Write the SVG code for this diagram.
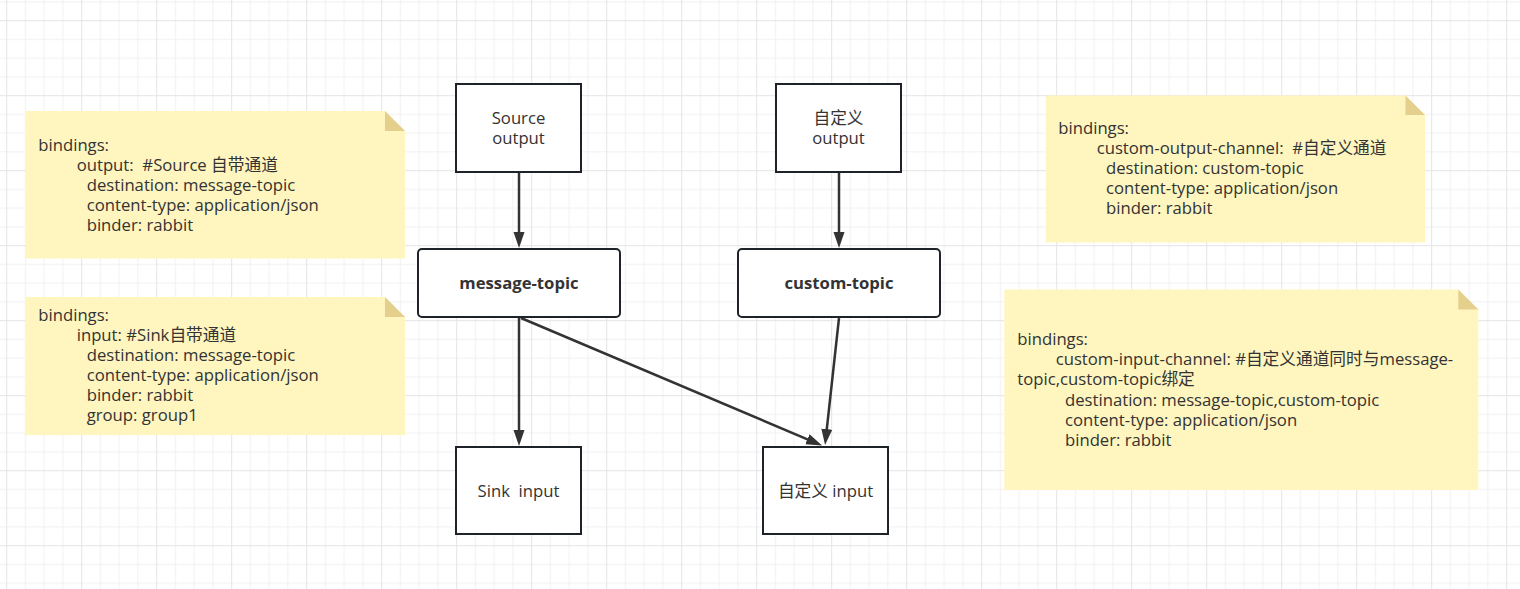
<svg xmlns="http://www.w3.org/2000/svg" width="1520" height="589" viewBox="0 0 1520 589">
<style>
.t{font-family:"Open Sans","Noto Sans CJK SC",sans-serif;font-size:16.7px;fill:#333;white-space:pre}
.c{text-anchor:middle}
.b{font-weight:bold}
.box{fill:#fff;stroke:#1e2329;stroke-width:2}
.note{fill:#fff5bf}
.fold{fill:#e4d08c}
.edge{stroke:#333;stroke-width:2.5;fill:none;marker-end:url(#arr)}
</style>
<defs>
<pattern id="grid" patternUnits="userSpaceOnUse" x="6.2" y="20.2" width="75" height="75">
<rect width="75" height="75" fill="#fff"/>
<g fill="#f1f1f1">
<rect x="18.75" y="0" width="1" height="75"/><rect x="37.5" y="0" width="1" height="75"/><rect x="56.25" y="0" width="1" height="75"/>
<rect x="0" y="18.75" width="75" height="1"/><rect x="0" y="37.5" width="75" height="1"/><rect x="0" y="56.25" width="75" height="1"/>
</g>
<g fill="#e4e4e4"><rect x="0" y="0" width="1" height="75"/><rect x="0" y="0" width="75" height="1"/></g>
</pattern>
<marker id="arr" markerUnits="userSpaceOnUse" markerWidth="17" markerHeight="12" refX="11" refY="5.5" orient="auto">
<path d="M0,0 L16,5.5 L0,11 z" fill="#333"/>
</marker>
</defs>
<rect width="1520" height="589" fill="url(#grid)"/>

<g id="note-source">
<polygon class="note" points="25.5,111 385,111 405,131 405,258.5 25.5,258.5"/>
<polygon class="fold" points="385,111 405,131 385,131"/>
<text class="t" x="38.3" y="150.5">bindings:</text>
<text class="t" x="76.7" y="170.5">output:  #Source 自带通道</text>
<text class="t" x="86.7" y="190.5">destination: message-topic</text>
<text class="t" x="86.7" y="210.5">content-type: application/json</text>
<text class="t" x="86.7" y="230.5">binder: rabbit</text>
</g>

<g id="note-sink">
<polygon class="note" points="25.5,297 385,297 405,317 405,435 25.5,435"/>
<polygon class="fold" points="385,297 405,317 385,317"/>
<text class="t" x="38.3" y="320.5">bindings:</text>
<text class="t" x="76.7" y="340.5">input: #Sink自带通道</text>
<text class="t" x="86.7" y="360.5">destination: message-topic</text>
<text class="t" x="86.7" y="380.5">content-type: application/json</text>
<text class="t" x="86.7" y="400.5">binder: rabbit</text>
<text class="t" x="86.7" y="420.5">group: group1</text>
</g>

<g id="note-custom-output">
<polygon class="note" points="1045.7,95.5 1405.5,95.5 1425,115 1425,242.5 1045.7,242.5"/>
<polygon class="fold" points="1405.5,95.5 1425,115 1405.5,115"/>
<text class="t" x="1058.3" y="134">bindings:</text>
<text class="t" x="1096.7" y="154">custom-output-channel:  #自定义通道</text>
<text class="t" x="1106" y="174">destination: custom-topic</text>
<text class="t" x="1106" y="194">content-type: application/json</text>
<text class="t" x="1106" y="214">binder: rabbit</text>
</g>

<g id="note-custom-input">
<polygon class="note" points="1004.3,289.5 1458.3,289.5 1478.3,309.5 1478.3,490 1004.3,490"/>
<polygon class="fold" points="1458.3,289.5 1478.3,309.5 1458.3,309.5"/>
<text class="t" x="1017.3" y="345">bindings:</text>
<text class="t" x="1055.7" y="365">custom-input-channel: #自定义通道同时与message-</text>
<text class="t" x="1017.3" y="385">topic,custom-topic绑定</text>
<text class="t" x="1065" y="405.5">destination: message-topic,custom-topic</text>
<text class="t" x="1065" y="425.5">content-type: application/json</text>
<text class="t" x="1065" y="445.5">binder: rabbit</text>
</g>

<g id="connectors">
<line class="edge" x1="519" y1="172" x2="519" y2="243"/>
<line class="edge" x1="839" y1="172" x2="839" y2="243"/>
<line class="edge" x1="519" y1="317" x2="519" y2="441"/>
<line class="edge" x1="521" y1="318" x2="817.5" y2="443.6"/>
<line class="edge" x1="839" y1="318" x2="825.6" y2="440"/>
</g>

<g id="source-output">
<rect class="box" x="456" y="84" width="125" height="88"/>
<text class="t c" x="518.5" y="124">Source</text>
<text class="t c" x="518.5" y="144">output</text>
</g>

<g id="custom-output">
<rect class="box" x="776" y="84" width="125" height="88"/>
<text class="t c" x="838.5" y="124">自定义</text>
<text class="t c" x="838.5" y="144">output</text>
</g>

<g id="message-topic">
<rect class="box" x="418" y="249" width="202" height="68" rx="4"/>
<text class="t c b" x="519" y="289">message-topic</text>
</g>

<g id="custom-topic">
<rect class="box" x="738" y="249" width="202" height="68" rx="4"/>
<text class="t c b" x="839" y="289">custom-topic</text>
</g>

<g id="sink-input">
<rect class="box" x="456" y="447" width="125" height="87"/>
<text class="t c" x="518.5" y="497">Sink  input</text>
</g>

<g id="custom-input">
<rect class="box" x="763" y="447" width="125" height="87"/>
<text class="t c" x="825.5" y="497">自定义 input</text>
</g>
</svg>
